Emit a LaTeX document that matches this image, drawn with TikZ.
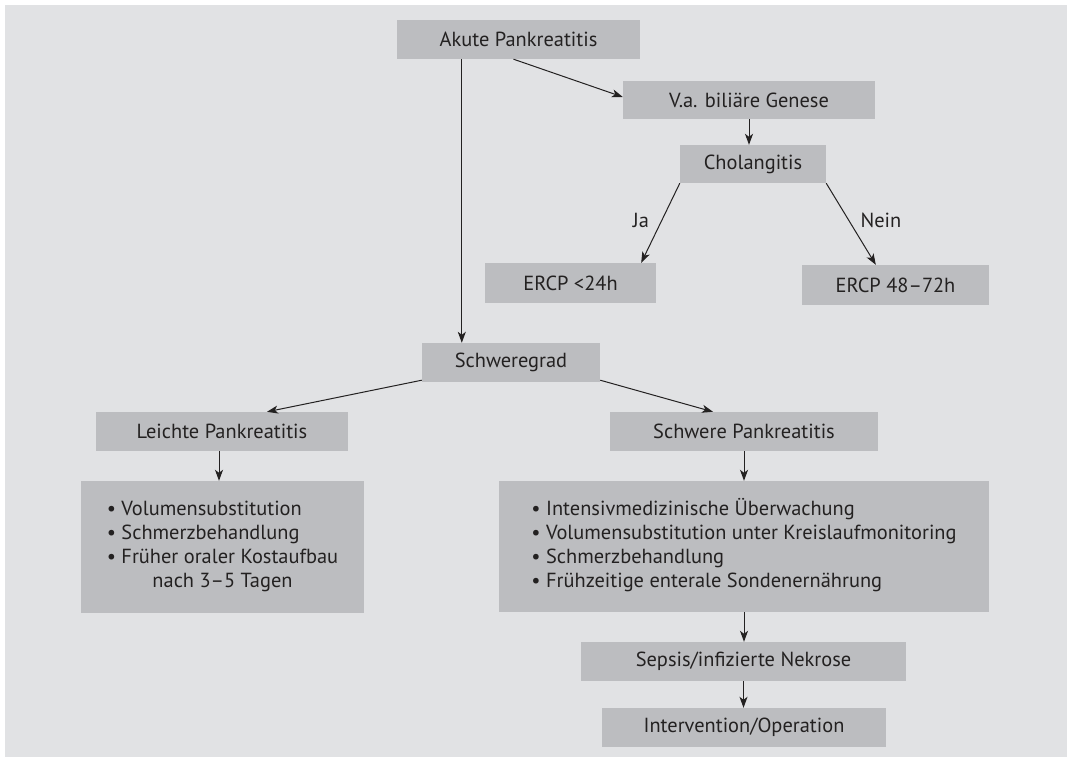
\documentclass[tikz,border=0pt]{standalone}
\usepackage{fontspec}
\setmainfont{PT Sans}
\usetikzlibrary{arrows.meta}
\definecolor{bg}{RGB}{225,226,228}
\definecolor{boxgray}{RGB}{188,189,192}
\definecolor{txt}{RGB}{35,33,33}
\tikzset{
  box/.style={fill=boxgray, draw=none, inner sep=0pt, text=txt, font=\fontsize{20.4}{24}\selectfont},
  conn/.style={draw=txt, line width=1pt, -{Stealth[length=11pt,width=8pt,inset=3pt]}},
  lbl/.style={inner sep=0pt, text=txt, font=\fontsize{20.4}{24}\selectfont}
}
\begin{document}
\begin{tikzpicture}[x=1pt,y=-1pt]
\useasboundingbox (0,0) rectangle (1067,757);
\fill[white] (0,0) rectangle (1067,757);
\fill[bg] (5,5) rectangle (1067,757);

\node[box, minimum width=243pt, minimum height=39pt] (akute) at (518.5,39.5) {Akute Pankreatitis};
\node[box, minimum width=252pt, minimum height=38pt] (va) at (749,100) {V.a. biliäre Genese};
\node[box, minimum width=146pt, minimum height=38pt] (chol) at (753,164) {Cholangitis};
\node[box, minimum width=171pt, minimum height=40pt] (ercpa) at (570.5,283) {ERCP <24h};
\node[box, minimum width=187pt, minimum height=40pt] (ercpb) at (895.5,285) {ERCP 48–72h};
\node[box, minimum width=178pt, minimum height=39pt] (sg) at (511,362.5) {Schweregrad};
\node[box, minimum width=252pt, minimum height=39pt] (leicht) at (222,431.5) {Leichte Pankreatitis};
\node[box, minimum width=268pt, minimum height=39pt] (schwer) at (744,431.5) {Schwere Pankreatitis};
\node[box, minimum width=283pt, minimum height=132pt] (lista) at (222.5,547) {%
  \begin{tabular}{@{}l@{}}
  • Volumensubstitution\\
  • Schmerzbehandlung\\
  • Früher oraler Kostaufbau\\
  \multicolumn{1}{@{}c@{}}{nach 3–5 Tagen}
  \end{tabular}};
\node[box, minimum width=490pt, minimum height=131pt] (listb) at (744,546.5) {%
  \begin{tabular}{@{}l@{}}
  • Intensivmedizinische Überwachung\\
  • Volumensubstitution unter Kreislaufmonitoring\\
  • Schmerzbehandlung\\
  • Frühzeitige enterale Sondenernährung
  \end{tabular}};
\node[box, minimum width=325pt, minimum height=39pt] (sepsis) at (743.5,661.5) {Sepsis/infizierte Nekrose};
\node[box, minimum width=284pt, minimum height=39pt] (interv) at (744,727.5) {Intervention/Operation};

\node[lbl] (ja) at (641,220) {Ja};
\node[lbl] (nein) at (881,220) {Nein};

\draw[conn] ([xshift=65pt]akute.south west) -- ([xshift=40pt]sg.north west);
\draw[conn] ([xshift=-5pt]akute.south) -- ([yshift=3pt]va.west);
\draw[conn] (va.south) -- (va.south |- chol.north);
\draw[conn] (chol.south west) -- ([xshift=-15pt]ercpa.north east);
\draw[conn] (chol.south east) -- ([xshift=74pt]ercpb.north west);
\draw[conn] ([yshift=2pt]sg.south west) -- ([xshift=45pt]leicht.north);
\draw[conn] ([yshift=2pt]sg.south east) -- ([xshift=-31pt]schwer.north);
\draw[conn] ([xshift=-3pt]leicht.south) -- ([xshift=-3pt]leicht.south |- lista.north);
\draw[conn] (schwer.south) -- (schwer.south |- listb.north);
\draw[conn] (listb.south) -- (listb.south |- sepsis.north);
\draw[conn] (sepsis.south) -- (sepsis.south |- interv.north);
\end{tikzpicture}
\end{document}
